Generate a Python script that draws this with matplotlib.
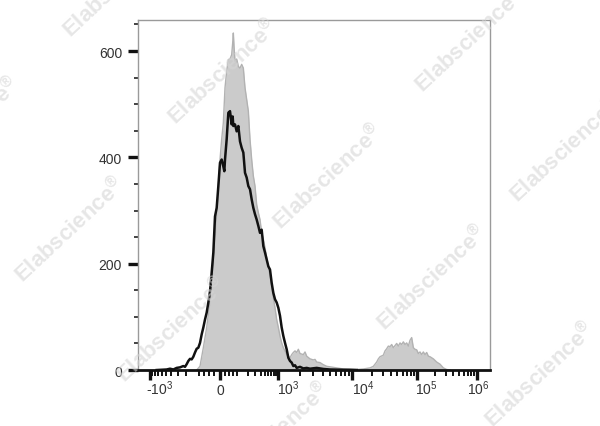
import numpy as np
import matplotlib
matplotlib.use('Agg')
from matplotlib import pyplot as plt
from matplotlib import transforms
from matplotlib.ticker import MultipleLocator

plt.rcParams['font.family'] = ['Liberation Sans', 'DejaVu Sans']
plt.rcParams['mathtext.default'] = 'regular'

# display channel (biexponential scale, 0..1056) and event counts
gray_ch = [176, 186, 196, 206, 216, 226, 231, 236, 241, 246, 251, 256, 261, 266, 271, 276,
           281, 284, 286, 288, 291, 296, 301, 306, 311, 316, 321, 326, 331, 336, 341, 346,
           351, 356, 361, 366, 371, 376, 381, 386, 391, 396, 401, 406, 411, 416, 421, 426,
           431, 436, 441, 446, 451, 456, 461, 466, 471, 476, 481, 486, 496, 501, 506, 516,
           526, 531, 536, 546, 556, 566, 576, 596, 616, 636, 656, 676, 696, 706, 716, 721,
           726, 736, 741, 746, 751, 756, 761, 766, 771, 776, 781, 786, 791, 796, 801, 806,
           811, 816, 821, 826, 831, 836, 841, 846, 851, 856, 861, 866, 871, 876, 886, 896,
           906, 916, 926, 936]
gray_counts = [0, 7, 42, 80, 130, 199, 246, 296, 346, 396, 434, 465, 531, 562, 584, 585,
               593, 615, 634, 609, 581, 585, 571, 568, 575, 568, 531, 509, 487, 434, 396, 365,
               346, 311, 296, 283, 258, 246, 230, 211, 195, 177, 158, 136, 117, 95, 80, 64,
               51, 42, 36, 29, 26, 23, 29, 33, 36, 33, 39, 31, 29, 34, 26, 21,
               19, 20, 15, 14, 10, 7, 6, 4, 2, 2, 1, 2, 4, 7, 15, 21,
               25, 28, 36, 40, 45, 44, 48, 42, 46, 50, 45, 51, 48, 53, 48, 51,
               45, 56, 61, 42, 39, 38, 31, 34, 29, 34, 29, 33, 26, 25, 21, 15,
               11, 4, 1, 0]

black_ch = [56, 86, 96, 106, 116, 126, 136, 141, 146, 151, 156, 161, 166, 171, 176, 181,
            186, 191, 196, 201, 206, 211, 216, 221, 226, 231, 236, 241, 246, 251, 256, 259,
            261, 266, 271, 276, 281, 284, 286, 291, 296, 301, 306, 311, 316, 321, 326, 331,
            336, 341, 346, 351, 356, 361, 366, 371, 376, 381, 386, 391, 396, 401, 406, 411,
            416, 421, 426, 431, 436, 441, 446, 451, 456, 461, 466, 471, 476, 486, 496, 506,
            516, 536, 556, 576, 616, 656]
black_counts = [0, 1, 2.5, 1, 4, 5, 7.5, 6, 11, 17, 21, 20, 25, 33, 40, 42,
                51, 67, 80, 95, 108, 127, 148, 183, 221, 289, 305, 346, 390, 396, 383, 374,
                396, 434, 484, 487, 462, 477, 459, 462, 449, 459, 430, 418, 409, 371, 362, 346,
                340, 321, 305, 293, 283, 271, 258, 264, 233, 221, 208, 195, 189, 164, 145, 133,
                127, 117, 102, 80, 64, 51, 39, 23, 17, 14, 7.5, 9, 4, 6, 3, 4,
                2.5, 4, 2, 1, 0.5, 0]

# axis scale: decade values and where they sit on the display channel
major_values = np.array([-1000, 0, 1e3, 1e4, 1e5, 1e6])
major_channels = [36, 246, 420, 642, 837, 1017]
major_labels = ['-10$^{3}$', '0', '10$^{3}$', '10$^{4}$', '10$^{5}$', '10$^{6}$']
label_dx = [10, 0, 10, 11, 9, 1]   # pixel nudges to mimic the original layout

s_anchor = np.arcsinh(major_values / 100.0)


def to_channel(v):
    return np.interp(np.arcsinh(np.asarray(v, dtype=float) / 100.0), s_anchor, major_channels)


minor_values = []
for m in range(1, 10):
    minor_values += [-100 * m, 100 * m]
for m in (25, 50, 75):
    minor_values += [-m, m]
for dec in (1e3, 1e4, 1e5):
    minor_values += [dec * m for m in range(2, 10)]

fig = plt.figure(figsize=(6, 4.27), dpi=100)
ax = fig.add_axes([0.23, 0.1311, 0.5867, 0.8204])

ax.fill_between(gray_ch, gray_counts, color='#cbcbcb', lw=0, zorder=2)
ax.plot(gray_ch, gray_counts, color='#b2b2b2', lw=1.0, zorder=2)
ax.plot(black_ch, black_counts, color='#111111', lw=1.8, zorder=3)

ax.set_xlim(0, 1056)
ax.set_ylim(0, 659)

ax.set_xticks(to_channel(major_values))
ax.set_xticklabels([])
ax.set_xticks(to_channel(minor_values), minor=True)
ax.set_yticks([0, 200, 400, 600])
ax.yaxis.set_minor_locator(MultipleLocator(50))

ax.tick_params(axis='x', which='major', length=7, width=2.4, color='#111111')
ax.tick_params(axis='x', which='minor', length=4.5, width=1.4, color='#111111')
ax.tick_params(axis='y', which='major', length=7, width=2.4, color='#111111',
               labelsize=10, labelcolor='#333333', pad=4.5)
ax.tick_params(axis='y', which='minor', length=3, width=1.2, color='#222222')

for v, lab, dx in zip(major_values, major_labels, label_dx):
    tr = transforms.offset_copy(ax.get_xaxis_transform(), fig=fig, x=dx, y=0, units='dots')
    ax.text(to_channel(v), -0.0686, lab, transform=tr, ha='center', va='baseline',
            fontsize=10, color='#333333')

for side in ('left', 'top', 'right'):
    ax.spines[side].set_color('#9a9a9a')
    ax.spines[side].set_linewidth(1.0)
ax.spines['bottom'].set_color('#111111')
ax.spines['bottom'].set_linewidth(2.0)
ax.spines['bottom'].set_zorder(5)

# watermark grid (partly cut by the picture edge, as in the original)
marks = [(118, -15), (223, 72), (328, 177), (432, 278), (540, 375),
         (-35, 130), (70, 230), (172, 330), (275, 435),
         (470, 40), (565, 150)]
for mx, my in marks:
    fig.text(mx / 600, 1 - my / 427, 'Elabscience$^{®}$', rotation=43, ha='center',
             va='center', fontsize=16, fontweight='bold', color='#d6d6d6', alpha=0.6,
             zorder=10)

fig.savefig('out.png', dpi=100)
